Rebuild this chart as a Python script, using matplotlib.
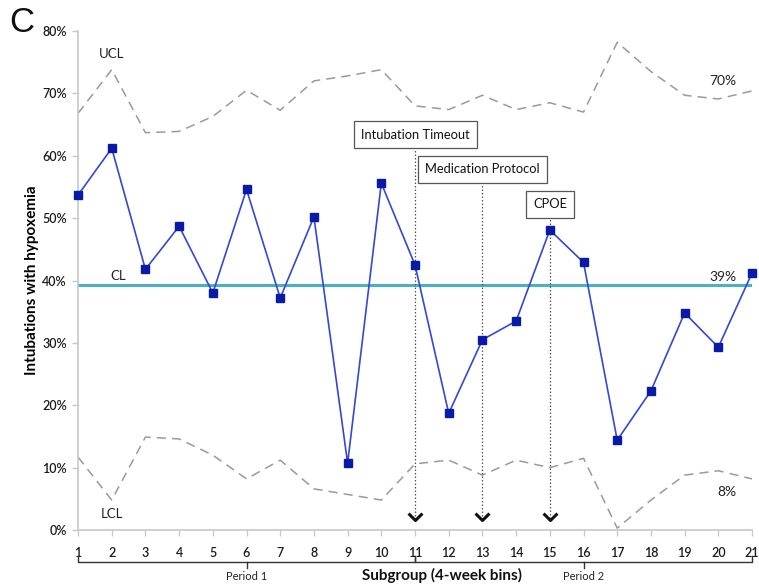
import matplotlib
matplotlib.use("Agg")
import matplotlib.pyplot as plt
from matplotlib.path import Path
import matplotlib.transforms as mtransforms

plt.rcParams['font.family'] = ['Lato', 'DejaVu Sans']

subgroups = list(range(1, 22))
pct_hypoxemia = [53.7, 61.2, 41.8, 48.7, 38.0, 54.6, 37.2, 50.2, 10.7, 55.6,
                 42.5, 18.7, 30.5, 33.5, 48.1, 42.9, 14.4, 22.3, 34.8, 29.3, 41.2]
ucl = [66.8, 73.8, 63.7, 63.9, 66.3, 70.5, 67.3, 72.0, 72.8, 73.8,
       68.0, 67.4, 69.7, 67.4, 68.5, 67.0, 78.2, 73.5, 69.7, 69.1, 70.4]
lcl = [11.7, 4.8, 14.9, 14.6, 12.0, 8.2, 11.2, 6.6, 5.7, 4.8,
       10.6, 11.2, 8.8, 11.2, 10.0, 11.5, 0.3, 4.8, 8.8, 9.5, 8.2]
center_line = 39.2
y_ticks = [0, 10, 20, 30, 40, 50, 60, 70, 80]

interventions = ["Intubation Timeout", "Medication Protocol", "CPOE"]
intervention_at = [11, 13, 15]
box_center_y = [63.4, 57.8, 52.2]
box_bottom_y = [61.4, 55.8, 50.3]

periods = ["Period 1", "Period 2"]
period_spans = [(1, 11), (11, 21)]

fig = plt.figure(figsize=(7.59, 5.85), dpi=100)
ax = fig.add_axes([0.1028, 0.094, 0.888, 0.853])

ax.plot(subgroups, ucl, color='#9a9a9a', lw=1.1, dashes=(6, 4))
ax.plot(subgroups, lcl, color='#9a9a9a', lw=1.1, dashes=(6, 4))
ax.axhline(center_line, color='#4bb0c6', lw=2.2, zorder=2)
ax.plot(subgroups, pct_hypoxemia, color='#3448d0', lw=1.2, marker='s',
        markersize=5.5, markerfacecolor='#0a1aa8', markeredgecolor='#0a1aa8',
        zorder=4, clip_on=False)

ax.set_xlim(1, 21)
ax.set_ylim(0, 80)
ax.set_xticks(subgroups)
ax.set_yticks(y_ticks)
ax.set_yticklabels([f"{v}%" for v in y_ticks])
for s in ['top', 'right']:
    ax.spines[s].set_visible(False)
for s in ['left', 'bottom']:
    ax.spines[s].set_color('#c8c8c8')
    ax.spines[s].set_linewidth(1.2)
ax.tick_params(axis='both', colors='#c8c8c8', labelcolor='#1a1a1a',
               labelsize=9, length=4, width=1)
ax.tick_params(axis='x', pad=8)
ax.tick_params(axis='y', pad=4)
for lbl in ax.get_xticklabels() + ax.get_yticklabels():
    lbl.set_fontweight('semibold')

ax.set_ylabel("Intubations with hypoxemia", fontsize=11, fontweight='bold',
              labelpad=2)

# control-limit labels
ax.text(2, 76.3, "UCL", ha='center', va='center', fontsize=9.5, color='#222222')
ax.text(2, 2.6, "LCL", ha='center', va='center', fontsize=9.5, color='#222222')
ax.text(2.2, 40.8, "CL", ha='center', va='center', fontsize=9.5, color='#222222')
ax.text(20.55, 72.0, "70%", ha='right', va='center', fontsize=10, color='#222222')
ax.text(20.55, 40.6, "39%", ha='right', va='center', fontsize=10, color='#222222')
ax.text(20.55, 6.1, "8%", ha='right', va='center', fontsize=10, color='#222222')

# intervention markers
chevron = Path([(-1, 1), (0, 0), (1, 1)],
               [Path.MOVETO, Path.LINETO, Path.LINETO])
for name, xi, yc, yb in zip(interventions, intervention_at, box_center_y, box_bottom_y):
    ax.text(xi, yc, name, ha='center', va='center', fontsize=9.3, color='#111111',
            bbox=dict(boxstyle='square,pad=0.55', facecolor='white',
                      edgecolor='#555555', linewidth=0.9), zorder=6)
    ax.plot([xi, xi], [yb, 1.8], color='#555555', lw=0.9, ls=(0, (1.2, 1.6)),
            zorder=3)
    ax.plot([xi], [1.6], marker=chevron, markersize=10, markerfacecolor='none',
            markeredgecolor='#111111', markeredgewidth=2.2, zorder=5)

# period brackets below the axis
trans = mtransforms.blended_transform_factory(ax.transData, ax.transAxes)
y_br = -0.064
for name, (x0, x1) in zip(periods, period_spans):
    xm = (x0 + x1) / 2
    ax.plot([x0, x0, x1, x1], [y_br + 0.012, y_br, y_br, y_br + 0.012],
            transform=trans, color='#333333', lw=1.0, clip_on=False)
    ax.plot([xm, xm], [y_br, y_br - 0.012], transform=trans, color='#333333',
            lw=1.0, clip_on=False)
    ax.text(xm, -0.093, name, transform=trans, ha='center', va='center',
            fontsize=8, color='#222222')

ax.text(11.8, -0.092, "Subgroup (4-week bins)", transform=trans, ha='center',
        va='center', fontsize=11, fontweight='bold', color='#111111')

fig.text(0.012, 0.962, "C", fontsize=25, ha='left', va='center',
         color='#111111', family=['Liberation Sans', 'DejaVu Sans'])

fig.savefig("out.png", dpi=100, facecolor='white')
